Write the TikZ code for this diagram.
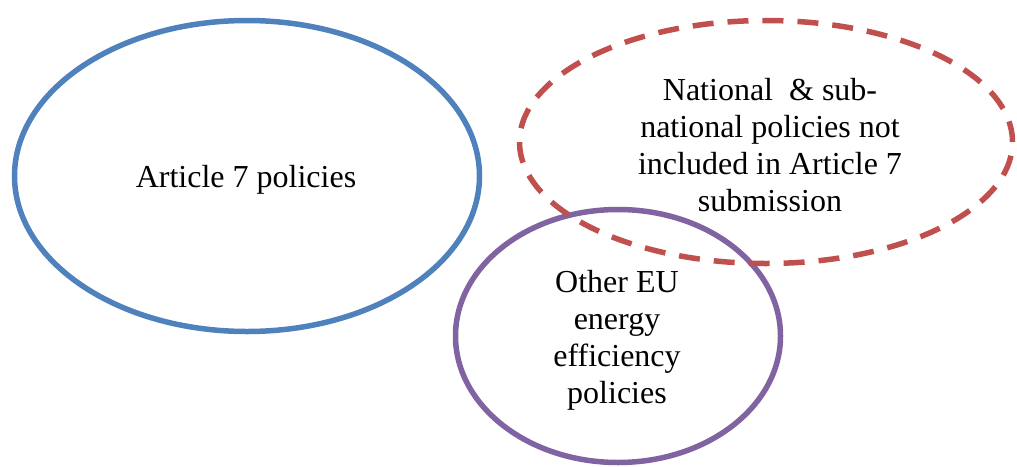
\documentclass[tikz,border=0pt]{standalone}
\usepackage{fontspec}
\setmainfont{Liberation Serif}
\usetikzlibrary{shapes.geometric}
\definecolor{oblue}{HTML}{4F81BD}
\definecolor{ored}{HTML}{C0504D}
\definecolor{opurple}{HTML}{8064A2}
\begin{document}
\begin{tikzpicture}[x=1pt,y=-1pt,
  setbox/.style={ellipse, inner sep=0pt, line width=5.5pt, align=center,
    font=\fontsize{32}{37}\selectfont},
  lbl/.style={align=center, inner sep=0pt, font=\fontsize{32}{37}\selectfont}]
\useasboundingbox (0,0) rectangle (1017,466);
\node[setbox, draw=oblue, minimum width=465pt, minimum height=311pt] (art7) at (247,176) {};
\node[lbl] (art7t) at (246,180) {Article 7 policies};
\node[setbox, draw=opurple, minimum width=325pt, minimum height=253pt] (eu) at (618,336) {};
\node[setbox, draw=ored, dash pattern=on 21pt off 14pt, minimum width=493pt, minimum height=243pt] (nat) at (766,142) {};
\node[lbl] (natt) at (770,145) {National\ \ \& sub-\\national policies not\\included in Article 7\\submission};
\node[lbl] (eut) at (617,340) {Other EU\\energy\\efficiency\\policies};
\end{tikzpicture}
\end{document}
